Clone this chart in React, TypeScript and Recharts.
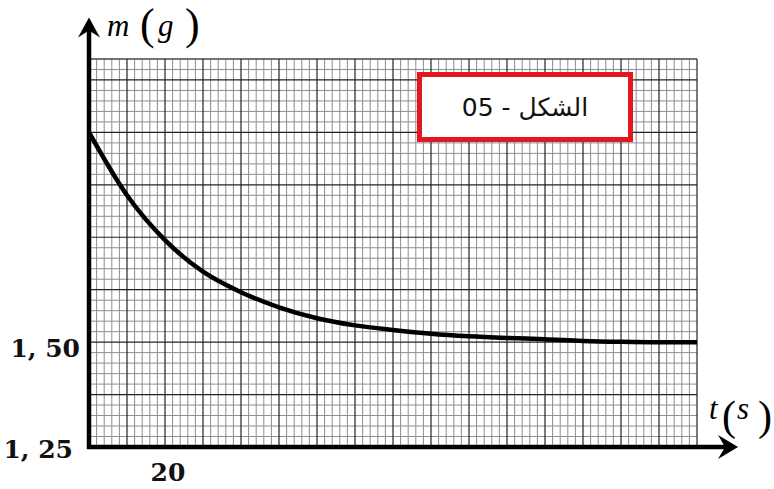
import React from "react"
import { Line, LineChart, ReferenceLine, XAxis, YAxis } from "recharts"

// time (s) and mass (g)
const times = [0, 10, 20, 30, 40, 50, 60, 70, 80, 90, 100, 110, 120, 130, 140, 150, 160]
const masses = [2.0, 1.85, 1.743, 1.668, 1.619, 1.583, 1.557, 1.54, 1.529, 1.52, 1.514, 1.51, 1.507, 1.503, 1.501, 1.5, 1.5]

const xTicks = [20]
const yTicks = [1.25, 1.5]
const xTickLabels = ["20"]
const yTickLabels = ["1, 25", "1, 50"]

const xMax = 160
const yMin = 1.25
const yMax = 2.175

const data = times.map((t, i) => ({ t, m: masses[i] }))

// graph paper: minor every 2 s / 0.025 g, major every 10 s / 0.125 g
const minorX: number[] = []
const majorX: number[] = []
for (let i = 0; i <= 80; i++) (i % 5 === 0 ? majorX : minorX).push(i * 2)
const minorY: number[] = []
const majorY: number[] = []
for (let i = 0; i <= 37; i++) (i % 5 === 0 ? majorY : minorY).push(+(yMin + i * 0.025).toFixed(3))

const serif = "'Liberation Serif', 'DejaVu Serif', serif"

function YArrow(props: any) {
  const { x1, y1, x2, y2 } = props
  return (
    <g>
      <line x1={x1} y1={y1 + 2} x2={x2} y2={y2 + 10} stroke="#000" strokeWidth={4.5} />
      <polygon points={`${x2},${y2} ${x2 - 11},${y2 + 20} ${x2},${y2 + 13} ${x2 + 11},${y2 + 20}`} fill="#000" />
      <text x={x2 + 18} y={y2 + 19} fontFamily={serif} fontStyle="italic" fontSize={31}>m</text>
      <text x={x2 + 51} y={y2 + 22} fontFamily={serif} fontSize={44}>(</text>
      <text x={x2 + 69} y={y2 + 19} fontFamily={serif} fontStyle="italic" fontSize={31}>g</text>
      <text x={x2 + 96} y={y2 + 22} fontFamily={serif} fontSize={44}>)</text>
    </g>
  )
}

function XArrow(props: any) {
  const { x1, y1, x2, y2 } = props
  return (
    <g>
      <line x1={x1 - 2} y1={y1} x2={x2 - 10} y2={y2} stroke="#000" strokeWidth={4.5} />
      <polygon points={`${x2},${y2} ${x2 - 20},${y2 - 12} ${x2 - 13},${y2} ${x2 - 20},${y2 + 12}`} fill="#000" />
      <text x={x2 - 29} y={y2 - 28} fontFamily={serif} fontStyle="italic" fontSize={31}>t</text>
      <text x={x2 - 16} y={y2 - 17} fontFamily={serif} fontSize={42}>(</text>
      <text x={x2 - 1} y={y2 - 28} fontFamily={serif} fontStyle="italic" fontSize={31}>s</text>
      <text x={x2 + 20} y={y2 - 17} fontFamily={serif} fontSize={42}>)</text>
    </g>
  )
}

function YTick(props: any) {
  const { x, y, payload } = props
  const i = yTicks.indexOf(payload.value)
  return (
    <text x={x - (i === 0 ? 16 : 9)} y={y + (i === 0 ? 11 : 15)} textAnchor="end" fontFamily="'DejaVu Serif', serif" fontWeight="bold" fontSize={25} fill="#111">
      {yTickLabels[i]}
    </text>
  )
}

function XTick(props: any) {
  const { x, y, payload } = props
  const i = xTicks.indexOf(payload.value)
  return (
    <text x={x + 3} y={y + 34} textAnchor="middle" fontFamily="'DejaVu Serif', serif" fontWeight="bold" fontSize={25} fill="#111">
      {xTickLabels[i]}
    </text>
  )
}

export default function App() {
  return (
    <div style={{ position: "fixed", left: 0, top: 0, width: 774, height: 489, background: "#fff" }}>
      <LineChart width={774} height={489} data={data} margin={{ top: 59, right: 77, bottom: 0, left: 0 }}>
        <XAxis
          dataKey="t"
          type="number"
          domain={[0, xMax]}
          ticks={xTicks}
          height={42}
          tickSize={0}
          tickMargin={0}
          axisLine={false}
          tickLine={false}
          tick={(p: any) => <XTick {...p} />}
          allowDataOverflow
        />
        <YAxis
          type="number"
          domain={[yMin, yMax]}
          ticks={yTicks}
          width={89}
          tickSize={0}
          tickMargin={0}
          axisLine={false}
          tickLine={false}
          tick={(p: any) => <YTick {...p} />}
          allowDataOverflow
        />
        {minorX.map((v) => (
          <ReferenceLine key={"mx" + v} x={v} stroke="#8e8e8e" strokeWidth={1} />
        ))}
        {minorY.map((v) => (
          <ReferenceLine key={"my" + v} y={v} stroke="#8e8e8e" strokeWidth={1} />
        ))}
        {majorX.map((v) => (
          <ReferenceLine key={"Mx" + v} x={v} stroke="#222" strokeWidth={1.2} />
        ))}
        {majorY.map((v) => (
          <ReferenceLine key={"My" + v} y={v} stroke="#222" strokeWidth={1.2} />
        ))}
        <ReferenceLine y={yMax} stroke="#222" strokeWidth={1.2} />
        <Line type="monotone" dataKey="m" stroke="#000" strokeWidth={4.5} dot={false} isAnimationActive={false} />
        <ReferenceLine
          segment={[{ x: 0, y: yMin }, { x: 0, y: 2.274 }]}
          ifOverflow="visible"
          shape={(p: any) => <YArrow {...p} />}
        />
        <ReferenceLine
          segment={[{ x: 0, y: yMin }, { x: 170.8, y: yMin }]}
          ifOverflow="visible"
          shape={(p: any) => <XArrow {...p} />}
        />
      </LineChart>
      <div
        dir="rtl"
        style={{
          position: "absolute",
          left: 417,
          top: 72,
          width: 216,
          height: 70,
          boxSizing: "border-box",
          border: "5px solid #e5161d",
          background: "#fff",
          display: "flex",
          alignItems: "center",
          justifyContent: "center",
          fontFamily: "'DejaVu Sans', 'Liberation Sans', sans-serif",
          fontSize: 25,
          color: "#111",
        }}
      >
        الشكل - 05
      </div>
    </div>
  )
}
